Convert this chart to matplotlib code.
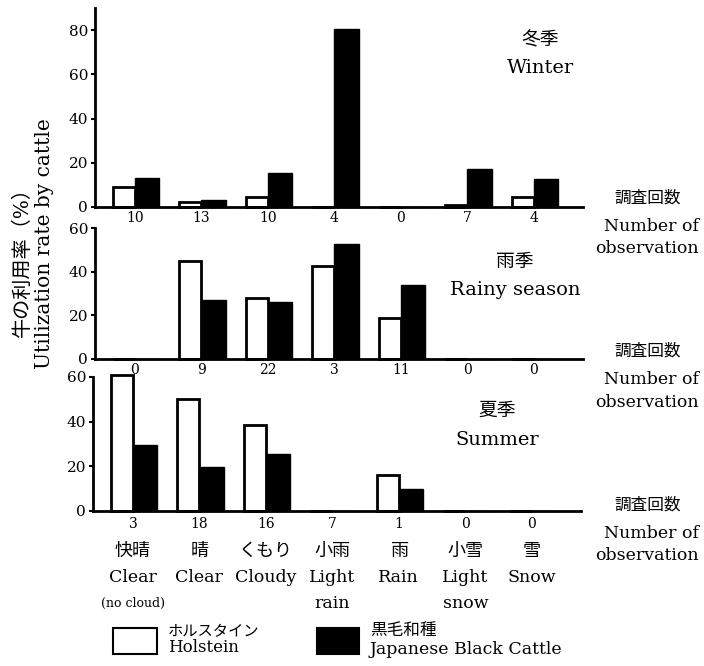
import numpy as np
import matplotlib
matplotlib.use("Agg")
from matplotlib import pyplot as plt
from matplotlib.patches import Rectangle
from matplotlib.transforms import blended_transform_factory

plt.rcParams['font.family'] = ['DejaVu Serif', 'Noto Sans CJK JP']

# weather categories
cat_jp = ['快晴', '晴', 'くもり', '小雨', '雨', '小雪', '雪']
cat_en = ['Clear', 'Clear', 'Cloudy', 'Light', 'Rain', 'Light', 'Snow']
cat_en2 = ['(no cloud)', '', '', 'rain', '', 'snow', '']

# utilization rate (%)  holstein / japanese black
winter_hol = [9, 2.3, 4.5, 0, 0, 1, 4.5]
winter_jbc = [13, 3, 15.4, 80.5, 0, 17, 12.7]
winter_n = [10, 13, 10, 4, 0, 7, 4]

rainy_hol = [0, 44.7, 28, 42.7, 19, 0, 0]
rainy_jbc = [0, 27, 26, 52.6, 34, 0, 0]
rainy_n = [0, 9, 22, 3, 11, 0, 0]

summer_hol = [61, 50.3, 38.3, 0, 16, 0, 0]
summer_jbc = [29.6, 19.5, 25.5, 0, 9.8, 0, 0]
summer_n = [3, 18, 16, 7, 1, 0, 0]

W, H = 704, 666
fig = plt.figure(figsize=(W / 100, H / 100), dpi=100)


def px_axes(left, top, right, bottom):
    return fig.add_axes([left / W, 1 - bottom / H, (right - left) / W, (bottom - top) / H])


def ftext(x, y, s, **kw):
    fig.text(x / W, 1 - y / H, s, ha='center', va='center', **kw)


x = np.arange(len(cat_jp))
wh, wj = 0.33, 0.37


def panel(ax, hol, jbc, counts, ymax, yticks, pad):
    b1 = ax.bar(x - wh / 2, hol, wh, facecolor='white', edgecolor='black', linewidth=2)
    b2 = ax.bar(x + wj / 2, jbc, wj, color='black', edgecolor='black', linewidth=1)
    for r in list(b1) + list(b2):
        r.set_clip_on(False)
    ax.set_xlim(-0.6, 6.74)
    ax.set_ylim(0, ymax)
    ax.set_yticks(yticks)
    ax.set_xticks(x)
    ax.set_xticklabels([str(c) for c in counts])
    ax.tick_params(axis='x', length=0, pad=pad, labelsize=10)
    ax.tick_params(axis='y', length=3, width=1.5, labelsize=11, pad=2)
    for s in ['top', 'right']:
        ax.spines[s].set_visible(False)
    for s in ['left', 'bottom']:
        ax.spines[s].set_linewidth(2)
    ax.patch.set_alpha(0)


ax1 = px_axes(95, 8, 583, 207)
panel(ax1, winter_hol, winter_jbc, winter_n, 90, [0, 20, 40, 60, 80], 3)

ax2 = px_axes(95, 228, 583, 359)
panel(ax2, rainy_hol, rainy_jbc, rainy_n, 60, [0, 20, 40, 60], 3)

ax3 = px_axes(93, 377, 581, 511)
panel(ax3, summer_hol, summer_jbc, summer_n, 60, [0, 20, 40, 60], 4)

# season titles
ftext(540, 40, '冬季', fontsize=13.5)
ftext(540, 68, 'Winter', fontsize=14)
ftext(515, 262, '雨季', fontsize=13.5)
ftext(515, 290, 'Rainy season', fontsize=14)
ftext(497, 411, '夏季', fontsize=13.5)
ftext(497, 440, 'Summer', fontsize=14)

# number of observation labels
for y0 in [198, 351, 505]:
    ftext(648, y0, '調査回数', fontsize=12)
    ftext(651, y0 + 29, 'Number of', fontsize=12.5)
    ftext(647, y0 + 51, 'observation', fontsize=12.5)

# y labels
ftext(22, 257, '牛の利用率（%）', fontsize=14.5, rotation=90)
ftext(45, 244, 'Utilization rate by cattle', fontsize=14.5, rotation=90)

# category labels under bottom panel
tr = blended_transform_factory(ax3.transData, fig.transFigure)
for i in range(len(cat_jp)):
    ax3.text(x[i], 1 - 551 / H, cat_jp[i], transform=tr, ha='center', va='center', fontsize=13)
    ax3.text(x[i], 1 - 578 / H, cat_en[i], transform=tr, ha='center', va='center', fontsize=12.5)
    if cat_en2[i]:
        fs = 9 if i == 0 else 12.5
        ax3.text(x[i], 1 - 603 / H, cat_en2[i], transform=tr, ha='center', va='center', fontsize=fs)

# legend
fig.add_artist(Rectangle((113 / W, 1 - 654 / H), 44 / W, 26 / H, transform=fig.transFigure,
                         facecolor='white', edgecolor='black', linewidth=1.5))
fig.add_artist(Rectangle((317 / W, 1 - 654 / H), 42 / W, 26 / H, transform=fig.transFigure,
                         facecolor='black', edgecolor='black', linewidth=1.5))
fig.text(168 / W, 1 - 632 / H, 'ホルスタイン', fontsize=11, va='center')
fig.text(168 / W, 1 - 648 / H, 'Holstein', fontsize=12, va='center')
fig.text(370 / W, 1 - 631 / H, '黒毛和種', fontsize=12, va='center')
fig.text(370 / W, 1 - 650 / H, 'Japanese Black Cattle', fontsize=12.5, va='center')

fig.savefig('out.png', dpi=100)
